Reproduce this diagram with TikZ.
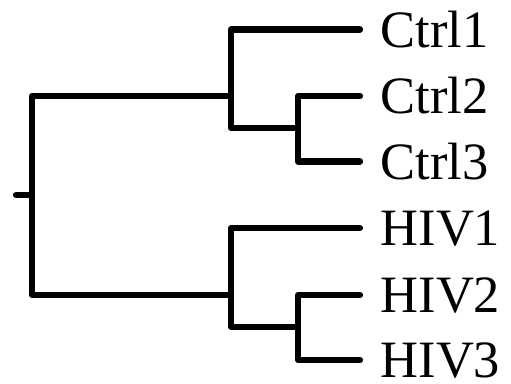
\documentclass[tikz,border=0pt]{standalone}
\usepackage{fontspec}
\setmainfont{Liberation Serif}
\begin{document}
\begin{tikzpicture}[x=1pt,y=-1pt,
  branch/.style={line width=6.2pt, line cap=round, line join=round},
  leaf/.style={anchor=base west, inner sep=0pt, font=\fontsize{52.5}{52.5}\selectfont}]
\useasboundingbox (0,0) rectangle (511,383);

% root
\coordinate (stub) at (16,195);
\coordinate (root) at (32,195);
\coordinate (rt)   at (32,96);
\coordinate (rb)   at (32,295);

% upper clade (controls)
\coordinate (cj)   at (231,96);
\coordinate (ct)   at (231,29.5);
\coordinate (cb)   at (231,128);
\coordinate (c23)  at (298,128);
\coordinate (c2j)  at (298,96);
\coordinate (c3j)  at (298,161.5);
\coordinate (e1)   at (360,29.5);
\coordinate (e2)   at (360,96);
\coordinate (e3)   at (360,161.5);

% lower clade (HIV)
\coordinate (hj)   at (231,295);
\coordinate (ht)   at (231,228);
\coordinate (hb)   at (231,327);
\coordinate (h23)  at (298,327);
\coordinate (h2j)  at (298,295);
\coordinate (h3j)  at (298,360);
\coordinate (f1)   at (360,228);
\coordinate (f2)   at (360,295);
\coordinate (f3)   at (360,360);

% leaf labels
\node[leaf] (lc1) at (380.5,29.5+17.5) {Ctrl1};
\node[leaf] (lc2) at (380.5,96+17.5)   {Ctrl2};
\node[leaf] (lc3) at (380.5,161.5+17.5){Ctrl3};
\node[leaf] (lh1) at (380.5,228+17.5)  {HIV1};
\node[leaf] (lh2) at (380.5,295+17.5)  {HIV2};
\node[leaf] (lh3) at (380.5,360+17.5)  {HIV3};

% branches
\draw[branch] (stub) -- (root);
\draw[branch] (cj) -- (rt) -- (rb) -- (hj);
\draw[branch] (e1) -- (ct) -- (cb) -- (c23);
\draw[branch] (e2) -- (c2j) -- (c3j) -- (e3);
\draw[branch] (f1) -- (ht) -- (hb) -- (h23);
\draw[branch] (f2) -- (h2j) -- (h3j) -- (f3);
\end{tikzpicture}
\end{document}
